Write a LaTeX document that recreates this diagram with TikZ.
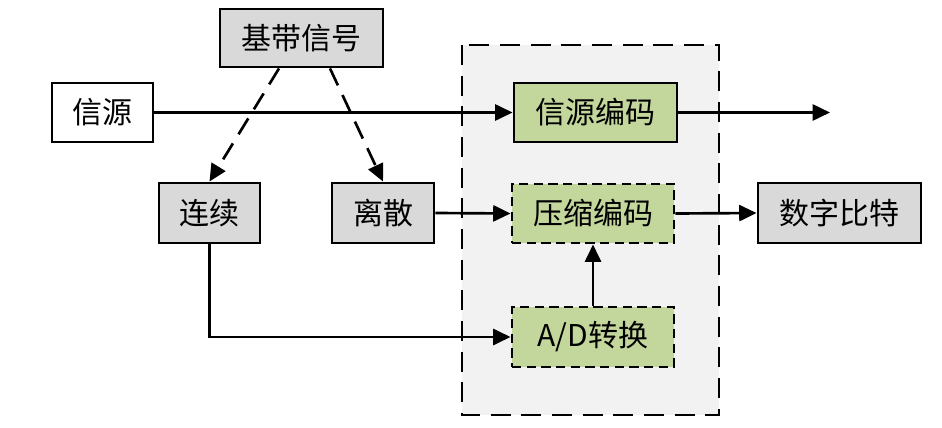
\documentclass[tikz,border=0pt]{standalone}
\usepackage{fontspec}
\setmainfont{Noto Sans CJK SC}
\usetikzlibrary{arrows.meta,calc}
\definecolor{boxgray}{HTML}{D9D9D9}
\definecolor{boxgreen}{HTML}{C3D69B}
\definecolor{bggray}{HTML}{F2F2F2}
\begin{document}
\begin{tikzpicture}[x=0.75pt,y=-0.75pt,
  box/.style={draw=black,line width=2.2pt,inner sep=0pt,font=\fontsize{22.5}{25}\selectfont},
  graybox/.style={box,fill=boxgray},
  greenbox/.style={box,fill=boxgreen},
  dashbox/.style={greenbox,dash pattern=on 7pt off 4pt},
  conn/.style={line width=2pt,-{Triangle[length=13pt,width=12pt]}},
  dconn/.style={conn,dash pattern=on 14pt off 8pt}]
\useasboundingbox (0,0) rectangle (942,428);
\fill[bggray] (462,45) rectangle (719,415);
\draw[line width=2.2pt,dash pattern=on 15pt off 8pt] (462,45) rectangle (719,415);
\node[graybox,minimum width=163*0.75pt,minimum height=58*0.75pt] (jd) at (301.5,38) {基带信号};
\node[box,fill=white,minimum width=101*0.75pt,minimum height=59*0.75pt] (xy) at (102.5,112.5) {信源};
\node[greenbox,minimum width=163*0.75pt,minimum height=59*0.75pt] (xybm) at (595.5,112.5) {信源编码};
\node[graybox,minimum width=101*0.75pt,minimum height=60*0.75pt] (lx) at (209.5,213) {连续};
\node[graybox,minimum width=102*0.75pt,minimum height=60*0.75pt] (ls) at (383,213) {离散};
\node[dashbox,minimum width=162*0.75pt,minimum height=59*0.75pt] (ys) at (593,213.5) {压缩编码};
\node[graybox,minimum width=163*0.75pt,minimum height=60*0.75pt] (sz) at (839.5,213) {数字比特};
\node[dashbox,minimum width=162*0.75pt,minimum height=60*0.75pt] (ad) at (593,337) {A/D转换};
\coordinate (out) at (830,112.5);
\draw[conn] (xy.east) -- (xybm.west);
\draw[conn] (xybm.east) -- (out);
\draw[dconn] ($(jd.south)+(-22.5,0)$) -- (lx.north);
\draw[dconn] ($(jd.south)+(28.5,0)$) -- (ls.north);
\draw[conn] (ls.east) -- (ys.west);
\draw[conn] (ys.east) -- (sz.west);
\draw[conn] (lx.south) |- (ad.west);
\draw[conn] (ad.north) -- (ys.south);
\end{tikzpicture}
\end{document}
